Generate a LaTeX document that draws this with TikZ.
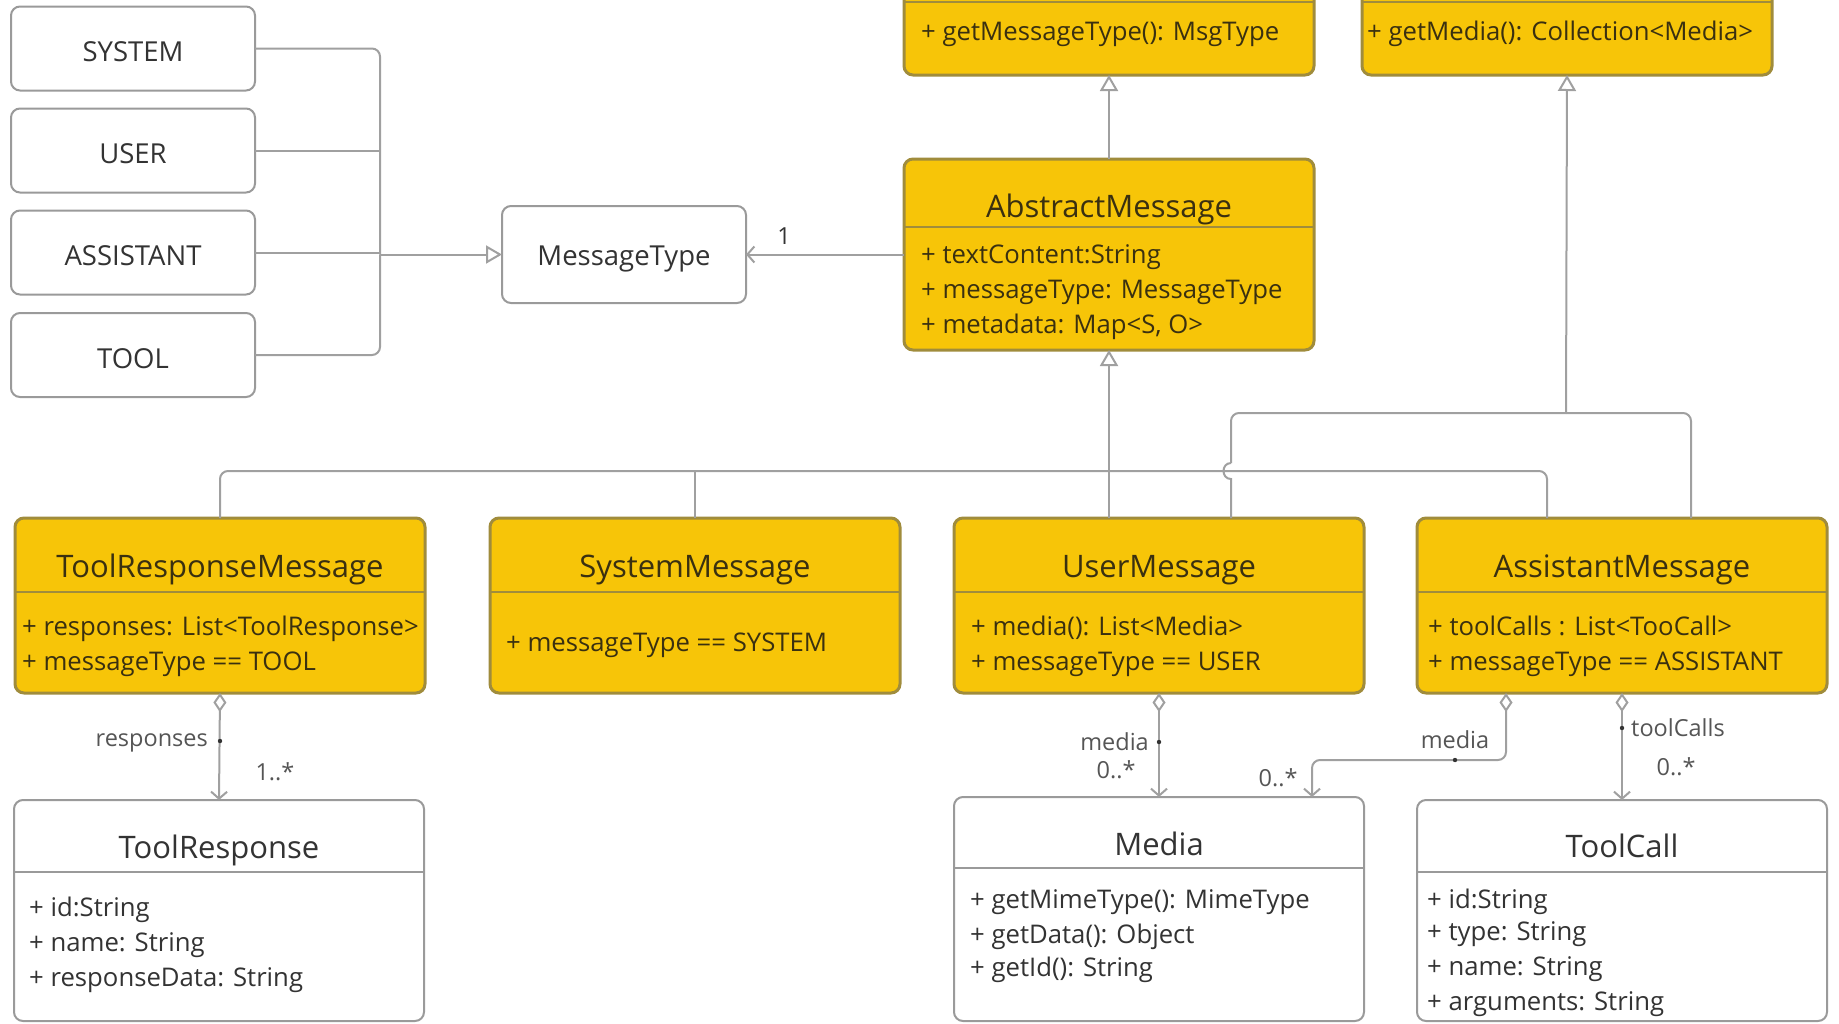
\documentclass[tikz,border=0pt]{standalone}
\usepackage{fontspec}
\setmainfont{Open Sans}
\usetikzlibrary{arrows.meta}
\definecolor{yfill}{HTML}{F7C508}
\definecolor{yborder}{HTML}{A08C3C}
\definecolor{lgray}{HTML}{A0A0A0}
\definecolor{bgray}{HTML}{9A9A9A}
\definecolor{ink}{HTML}{333333}
\definecolor{yink}{HTML}{3A3010}
\definecolor{lblc}{HTML}{555555}
\begin{document}
\begin{tikzpicture}[x=1pt,y=-1pt,
  conn/.style={draw=lgray, line width=2pt},
  ybox/.style={draw=yborder, fill=yfill, line width=3pt, rounded corners=9pt, outer sep=0pt, inner sep=0pt},
  wbox/.style={draw=bgray, fill=white, line width=2pt, rounded corners=9pt, outer sep=0pt, inner sep=0pt, text=ink},
  ysep/.style={draw=yborder, line width=2.6pt},
  wsep/.style={draw=bgray, line width=2pt},
  ttl/.style={font=\fontsize{31}{34}\selectfont, inner sep=0pt, anchor=base},
  yttl/.style={ttl, text=yink},
  wttl/.style={ttl, text=ink},
  attr/.style={font=\fontsize{25.7}{30}\selectfont, anchor=base west, inner sep=0pt},
  yattr/.style={attr, text=yink},
  wattr/.style={attr, text=ink},
  enumtxt/.style={font=\fontsize{27.5}{32}\selectfont, text height=26.6pt, text depth=0pt},
  lbl/.style={font=\fontsize{23.5}{26}\selectfont, text=lblc, inner sep=0pt},
  gen/.style={conn, -{Triangle[open, length=16pt, width=18pt, fill=white]}},
  nav/.style={-{Straight Barb[length=7pt, width=16pt]}},
  agg/.style={conn, {Diamond[open, length=19pt, width=13pt, fill=white]}-{Straight Barb[length=7pt, width=16pt]}},
  ldot/.style={fill=black!80, draw=none}
]
\useasboundingbox (0,0) rectangle (1839,1023);
\clip (0,0) rectangle (1839,1023);
\fill[white] (0,0) rectangle (1839,1023);

% ---------- enum values ----------
\node[wbox, enumtxt, minimum width=244pt, minimum height=84pt] (sys) at (133,48.5) {SYSTEM};
\node[wbox, enumtxt, minimum width=244pt, minimum height=84pt] (usr) at (133,150.5) {USER};
\node[wbox, enumtxt, minimum width=244pt, minimum height=84pt] (ast) at (133,252.5) {ASSISTANT};
\node[wbox, enumtxt, minimum width=244pt, minimum height=84pt] (tool) at (133,355) {TOOL};
\node[wbox, enumtxt, text height=22pt, minimum width=244pt, minimum height=97pt] (mtype) at (624,254.5) {MessageType};

\coordinate (ej) at (380,254.5);
\draw[conn, rounded corners=8pt] (sys.east) -- (sys.east -| ej) -- (ej);
\draw[conn, rounded corners=8pt] (tool.east) -- (tool.east -| ej) -- (ej);
\draw[conn] (usr.east) -- (usr.east -| ej);
\draw[conn] (ast.east) -- (ast.east -| ej);
\draw[gen] (ej) -- (mtype.west);

% ---------- top interfaces (cut off) ----------
\node[ybox, minimum width=410pt, minimum height=175pt] (mt) at (1109,-12.5) {};
\draw[ysep] (904,2) -- (1314,2);
\node[yattr] (mt1) at (921,40) {+ getMessageType(): MsgType};

\node[ybox, minimum width=410pt, minimum height=175pt] (mc) at (1567,-12.5) {};
\draw[ysep] (1362,2) -- (1772,2);
\node[yattr] (mc1) at (1367,40) {+ getMedia(): Collection<Media>};

% ---------- AbstractMessage ----------
\node[ybox, minimum width=410pt, minimum height=191pt] (abs) at (1109,254.5) {};
\draw[ysep] (904,227) -- (1314,227);
\node[yttl] (absT) at (1109,217) {AbstractMessage};
\node[yattr] (abs1) at (921,263) {+ textContent:String};
\node[yattr] (abs2) at (921,298) {+ messageType: MessageType};
\node[yattr] (abs3) at (921,333) {+ metadata: Map<S, O>};

\draw[gen] (abs.north) -- (mt.south);
\draw[conn, nav] (abs.west) -- (mtype.east);
\node[lbl, text=ink] (one) at (784,236) {1};

% ---------- message subclasses ----------
\node[ybox, minimum width=410pt, minimum height=175pt] (trm) at (220,605.5) {};
\draw[ysep] (15,592) -- (425,592);
\node[yttl] (trmT) at (220,577) {ToolResponseMessage};
\node[yattr] (trm1) at (22,635) {+ responses: List<ToolResponse>};
\node[yattr] (trm2) at (22,670) {+ messageType == TOOL};

\node[ybox, minimum width=410pt, minimum height=175pt] (sm) at (695,605.5) {};
\draw[ysep] (490,592) -- (900,592);
\node[yttl] (smT) at (695,577) {SystemMessage};
\node[yattr] (sm1) at (506,651) {+ messageType == SYSTEM};

\node[ybox, minimum width=410pt, minimum height=175pt] (um) at (1159,605.5) {};
\draw[ysep] (954,592) -- (1364,592);
\node[yttl] (umT) at (1159,577) {UserMessage};
\node[yattr] (um1) at (971,635) {+ media(): List<Media>};
\node[yattr] (um2) at (971,670) {+ messageType == USER};

\node[ybox, minimum width=410pt, minimum height=175pt] (am) at (1622,605.5) {};
\draw[ysep] (1417,592) -- (1827,592);
\node[yttl] (amT) at (1622,577) {AssistantMessage};
\node[yattr] (am1) at (1428,635) {+ toolCalls : List<TooCall>};
\node[yattr] (am2) at (1428,670) {+ messageType == ASSISTANT};

% ---------- generalization bus ----------
\coordinate (bus) at (1109,471);
\coordinate (j2) at (1566,413);
\draw[gen] (bus) -- (abs.south);
\draw[conn, rounded corners=8pt] (trm.north) -- (trm.north |- bus) -- (bus);
\draw[conn] (sm.north) -- (sm.north |- bus);
\draw[conn] ([xshift=-50pt]um.north) -- (bus);
\draw[conn, rounded corners=8pt] ([xshift=-75pt]am.north) -- (1547,471) -- (bus);

% realization of media interface
\draw[conn] ([xshift=72pt]um.north) -- (1231,479) .. controls (1221,479) and (1221,463) .. (1231,463);
\draw[conn, rounded corners=8pt] (1231,463) -- (1231,413) -- (j2);
\draw[conn, rounded corners=8pt] ([xshift=69pt]am.north) -- (1691,413) -- (j2);
\draw[gen] (j2) -- (mc.south);

% ---------- associated classes ----------
\node[wbox, minimum width=410pt, minimum height=221pt] (tr) at (219,910.5) {};
\draw[wsep] (14,872) -- (424,872);
\node[wttl] (trT) at (219,858) {ToolResponse};
\node[wattr] (tr1) at (29,916) {+ id:String};
\node[wattr] (tr2) at (29,951) {+ name: String};
\node[wattr] (tr3) at (29,986) {+ responseData: String};

\node[wbox, minimum width=410pt, minimum height=224pt] (med) at (1159,909) {};
\draw[wsep] (954,868) -- (1364,868);
\node[wttl] (medT) at (1159,855) {Media};
\node[wattr] (med1) at (970,908) {+ getMimeType(): MimeType};
\node[wattr] (med2) at (970,943) {+ getData(): Object};
\node[wattr] (med3) at (970,976) {+ getId(): String};

\node[wbox, minimum width=410pt, minimum height=221pt] (tc) at (1622,910.5) {};
\draw[wsep] (1417,872) -- (1827,872);
\node[wttl] (tcT) at (1622,857) {ToolCall};
\node[wattr] (tc1) at (1427,908) {+ id:String};
\node[wattr] (tc2) at (1427,940) {+ type: String};
\node[wattr] (tc3) at (1427,975) {+ name: String};
\node[wattr] (tc4) at (1427,1010) {+ arguments: String};

% ---------- aggregations ----------
\draw[agg] (trm.south) -- (tr.north);
\node[lbl, anchor=east] (l1) at (208,743) {responses};
\fill[ldot] (220,741) circle (2.2pt);
\node[lbl] (m1) at (275,772) {1..*};

\draw[agg] (um.south) -- (med.north);
\node[lbl, anchor=east] (l2) at (1149,742) {media};
\fill[ldot] (1159,742) circle (2.2pt);
\node[lbl] (m2) at (1116,770) {0..*};

\draw[agg, rounded corners=8pt] ([xshift=-116pt]am.south) -- (1506,760) -- (1312,760) -- ([xshift=153pt]med.north);
\node[lbl] (l3) at (1455,740) {media};
\fill[ldot] (1455,760) circle (2.2pt);
\node[lbl] (m3) at (1278,778) {0..*};

\draw[agg] (am.south) -- (tc.north);
\node[lbl, anchor=west] (l4) at (1631,728) {toolCalls};
\fill[ldot] (1622,728) circle (2.2pt);
\node[lbl] (m4) at (1676,767) {0..*};
\end{tikzpicture}
\end{document}
